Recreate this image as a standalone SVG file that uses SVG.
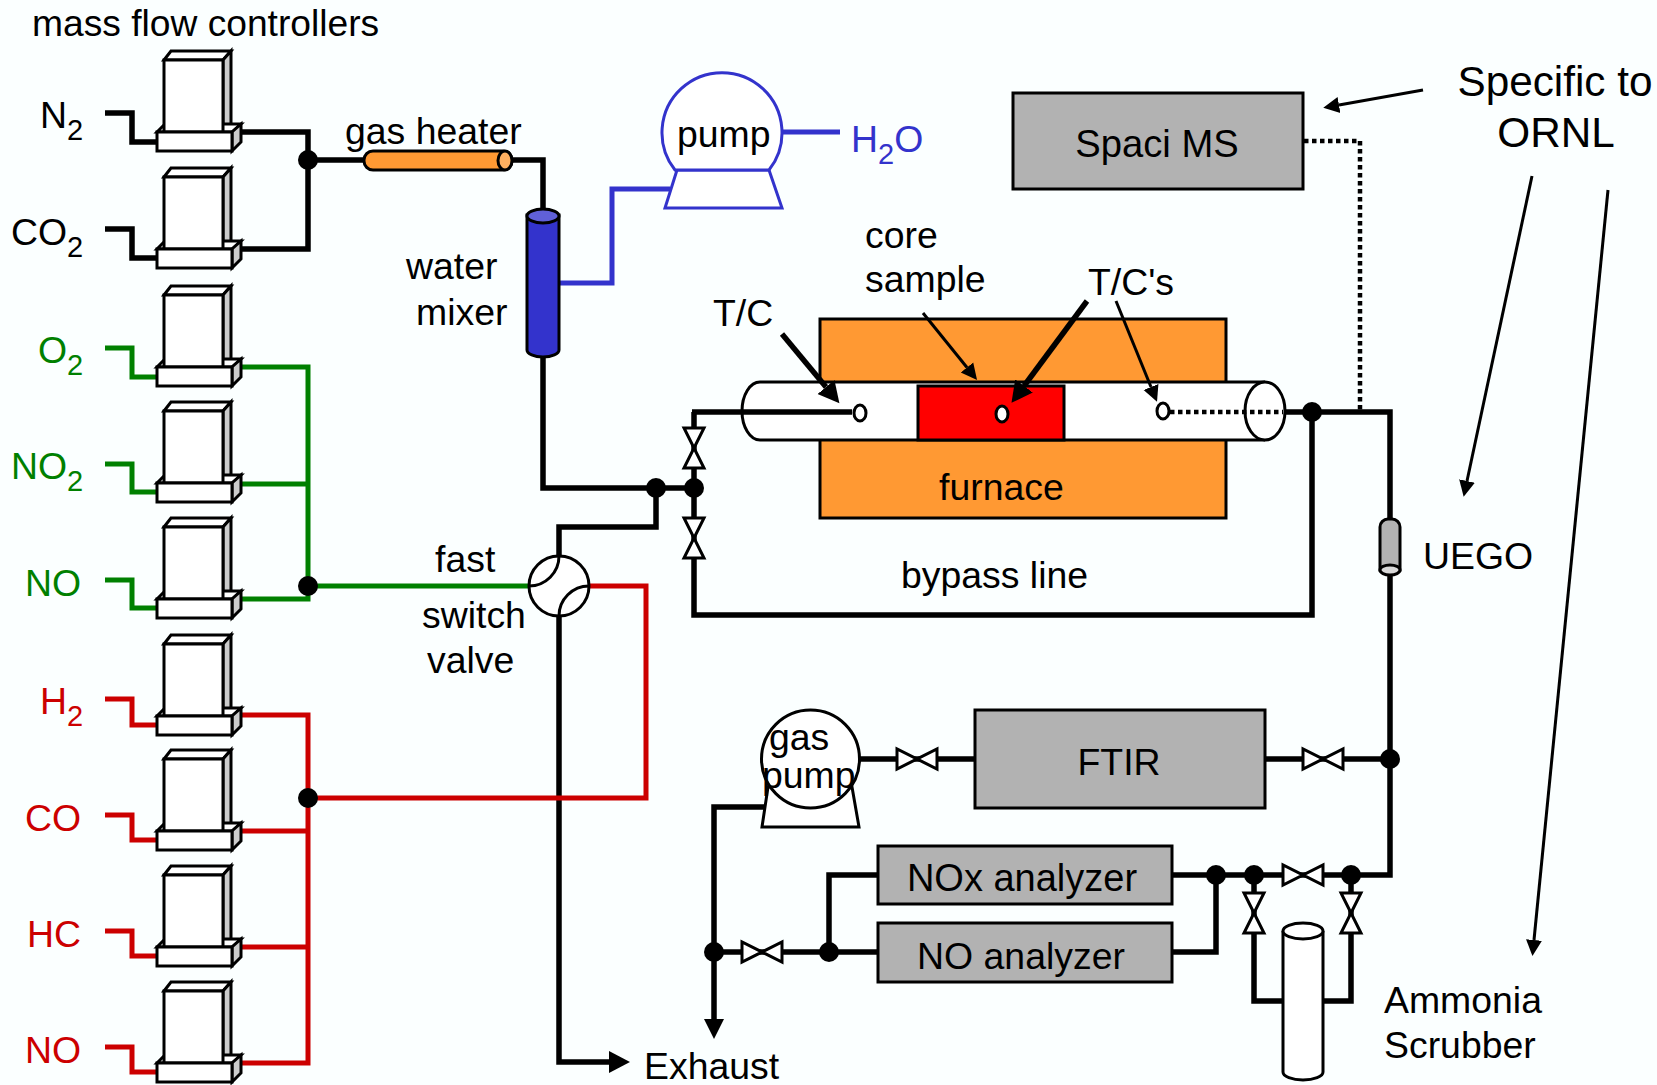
<svg xmlns="http://www.w3.org/2000/svg" width="1657" height="1085" viewBox="0 0 1657 1085">
<style>
text{font-family:"Liberation Sans",Arial,sans-serif;font-size:37.400px;fill:#000}
.m{text-anchor:middle}
.big{font-size:42.300px}
.mid{font-size:38px}
.sub{font-size:29px}
.g{fill:#008000}.r{fill:#cc0000}.b{fill:#3333cc}
.p{fill:none;stroke:#000;stroke-width:5.500}
.pg{fill:none;stroke:#008000;stroke-width:5}
.pr{fill:none;stroke:#cc0000;stroke-width:5}
.pb{fill:none;stroke:#3333cc;stroke-width:5}
.box{stroke:#000;stroke-width:3;fill:#b2b2b2}
.w{stroke:#000;stroke-width:3;fill:#fff}
.dot{fill:#000}
.dotted{fill:none;stroke:#000;stroke-width:4.500;stroke-dasharray:4.500 3.500}
.thin{fill:none;stroke:#000;stroke-width:3}
.thick{fill:none;stroke:#000;stroke-width:5.500}
</style>
<defs>
<marker id="ah" markerUnits="userSpaceOnUse" markerWidth="24" markerHeight="24" refX="0" refY="12" orient="auto"><path d="M0,4 L16,12 L0,20Z" fill="#000"/></marker>
<marker id="ahb" markerUnits="userSpaceOnUse" markerWidth="24" markerHeight="30" refX="0" refY="15" orient="auto"><path d="M0,4 L21,15 L0,26Z" fill="#000"/></marker>
<g id="mfc">
<path class="w" d="M164,60 L171,51 L231,51 L223,60Z"/>
<path d="M223,60 L231,51 L231,124 L223,132Z" fill="#cccccc" stroke="#000" stroke-width="3"/>
<path class="w" d="M157,132 L165,124 L241,124 L232,132Z"/>
<path d="M232,132 L241,124 L241,142 L232,151Z" fill="#cccccc" stroke="#000" stroke-width="3"/>
<rect class="w" x="164" y="60" width="59" height="72"/>
<rect class="w" x="157" y="132" width="75" height="19"/>
</g>
<path id="vv" class="w" d="M-10,-20 L10,-20 L-10,20 L10,20Z"/>
<path id="vh" class="w" d="M-20,-10 L-20,10 L20,-10 L20,10Z"/>
</defs>
<rect width="1657" height="1085" fill="#fbffff"/>

<g id="connectors">
<path class="p" d="M105,113H132V142H157M105,229H132V258H157"/>
<path class="p" d="M241,132H308V249H241M308,160H365"/>
<path class="p" d="M512,160H543V210"/>
<path class="p" d="M543,355V488H694"/>
<path class="p" d="M656,488V527H559V556"/>
<path class="p" d="M694,412V558M694,558V615H1312V412"/>
<path class="p" d="M1283,412H1390V875H1172"/>
<path class="dotted" d="M1304,141H1360V411"/>
<path class="p" d="M559,616V1062H609" marker-end="url(#ahb)"/>
<g id="green-lines">
<path class="pg" d="M105,348H132V377H157M105,464H132V492H157M105,580H132V608H157"/>
<path class="pg" d="M241,367H308V599H241M241,484H308M308,586H530"/>
</g>
<g id="red-lines">
<path class="pr" d="M105,699H132V725H157M105,815H132V840H157M105,931H132V956H157M105,1047H132V1072H157"/>
<path class="pr" d="M241,715H308V1063H241M241,831H308M241,947H308M308,798H646V586H589"/>
</g>
<path class="pb" d="M559,283H612V189H670M782,132H840"/>
<path class="p" d="M1265,759H1390M859,759H975M768,807H714V1019M714,952H878M829,952V875H878"/>
<path class="p" d="M1216,875V952H1172"/>
<path class="p" d="M1254,875V1001H1283M1351,875V1001H1323"/>
<path d="M704,1019H724L714,1039Z" fill="#000"/>
</g>

<g id="mfc-n2"><use href="#mfc"/><text x="40" y="128">N<tspan class="sub" dy="12">2</tspan></text></g>
<g id="mfc-co2"><use href="#mfc" y="117"/><text x="11" y="245">CO<tspan class="sub" dy="12">2</tspan></text></g>
<g id="mfc-o2"><use href="#mfc" y="235"/><text class="g" x="38" y="363">O<tspan class="sub" dy="12">2</tspan></text></g>
<g id="mfc-no2"><use href="#mfc" y="351"/><text class="g" x="11" y="479">NO<tspan class="sub" dy="12">2</tspan></text></g>
<g id="mfc-no-g"><use href="#mfc" y="467"/><text class="g" x="25" y="596">NO</text></g>
<g id="mfc-h2"><use href="#mfc" y="584"/><text class="r" x="40" y="714">H<tspan class="sub" dy="12">2</tspan></text></g>
<g id="mfc-co"><use href="#mfc" y="699"/><text class="r" x="25" y="831">CO</text></g>
<g id="mfc-hc"><use href="#mfc" y="815"/><text class="r" x="27" y="947">HC</text></g>
<g id="mfc-no-r"><use href="#mfc" y="931"/><text class="r" x="25" y="1063">NO</text></g>
<text x="32" y="36" style="font-size:37.200px">mass flow controllers</text>

<g id="junctions">
<circle class="dot" cx="308" cy="160" r="10"/>
<circle class="dot" cx="308" cy="586" r="10"/>
<circle class="dot" cx="308" cy="798" r="10"/>
<circle class="dot" cx="656" cy="488" r="10"/>
<circle class="dot" cx="694" cy="488" r="10"/>
<circle class="dot" cx="1312" cy="412" r="10"/>
<circle class="dot" cx="1390" cy="759" r="10"/>
<circle class="dot" cx="1216" cy="875" r="10"/>
<circle class="dot" cx="1254" cy="875" r="10"/>
<circle class="dot" cx="1351" cy="875" r="10"/>
<circle class="dot" cx="714" cy="952" r="10"/>
<circle class="dot" cx="829" cy="952" r="10"/>
</g>

<g id="gas-heater">
<rect x="364" y="151" width="148" height="19" rx="9" fill="#ff9933" stroke="#000" stroke-width="3"/>
<ellipse cx="505" cy="160.500" rx="7" ry="9.500" fill="#ffb060" stroke="#000" stroke-width="3"/>
<text x="345" y="144">gas heater</text>
</g>

<g id="water-mixer">
<path d="M527,215V350A16,7 0 0 0 559,350V215Z" fill="#3333cc" stroke="#000" stroke-width="3"/>
<ellipse cx="543" cy="216" rx="16" ry="7" fill="#6060d8" stroke="#000" stroke-width="3"/>
<text x="406" y="279">water</text>
<text x="416" y="325">mixer</text>
</g>

<g id="pump">
<path d="M677,170H769L782,208H665Z" fill="#fff" stroke="#3333cc" stroke-width="3"/>
<path d="M675,170A60,60 0 1 1 769,170Z" fill="#fff" stroke="#3333cc" stroke-width="3"/>
<text x="677" y="147">pump</text>
<text class="b" x="851" y="152">H<tspan class="sub" dy="12">2</tspan><tspan dy="-12">O</tspan></text>
</g>

<g id="furnace">
<rect x="820" y="319" width="406" height="199" fill="#ff9933" stroke="#000" stroke-width="3"/>
<path d="M760,382H1265V440H760A18,29 0 0 1 760,382Z" fill="#fff"/>
<path d="M1265,382H760A18,29 0 0 0 760,440H1265" fill="none" stroke="#000" stroke-width="3"/>
<rect x="918" y="386" width="146" height="54" fill="#ff0000" stroke="#000" stroke-width="3"/>
<ellipse class="w" cx="1265" cy="411" rx="20" ry="29"/>
<text x="939" y="500">furnace</text>
<text x="865" y="248">core</text>
<text x="865" y="292">sample</text>
<text x="713" y="326">T/C</text>
<text x="1088" y="295">T/C's</text>
</g>
<g id="thermocouples">
<path class="p" d="M692,412H852"/>
<ellipse class="w" cx="860" cy="413" rx="6" ry="8"/>
<ellipse class="w" cx="1002" cy="414" rx="6" ry="8"/>
<ellipse class="w" cx="1163" cy="411" rx="6" ry="8"/>
<path class="dotted" d="M1170,412H1283"/>
</g>

<g id="pointers">
<path class="thick" d="M782,334L826,387" marker-end="url(#ahb)"/>
<path class="thick" d="M1087,301L1024,386" marker-end="url(#ahb)"/>
<path class="thin" d="M923,313L967,367.500" marker-end="url(#ah)"/>
<path class="thin" d="M1116,301L1151,387" marker-end="url(#ah)"/>
<path class="thin" d="M1423,90L1339,105" marker-end="url(#ah)"/>
<path class="thin" d="M1532,176L1467,481" marker-end="url(#ah)"/>
<path class="thin" d="M1608,190L1534,940" marker-end="url(#ah)"/>
</g>

<g id="valves">
<use href="#vv" x="694" y="448"/>
<use href="#vv" x="694" y="538"/>
<use href="#vh" x="917" y="759"/>
<use href="#vh" x="1323" y="759"/>
<use href="#vh" x="762" y="952"/>
<use href="#vh" x="1303" y="875"/>
<use href="#vv" x="1254" y="913"/>
<use href="#vv" x="1351" y="913"/>
</g>

<g id="fast-switch-valve">
<circle class="w" cx="559" cy="586" r="30"/>
<path d="M529,586A30,30 0 0 0 559,556M589,586A30,30 0 0 0 559,616" fill="none" stroke="#000" stroke-width="3"/>
<text x="435" y="572">fast</text>
<text x="422" y="628">switch</text>
<text x="427" y="673">valve</text>
</g>
<text x="901" y="588">bypass line</text>

<g id="spaci-ms">
<rect class="box" x="1013" y="93" width="290" height="96"/>
<text class="m" style="font-size:38.200px" x="1157" y="157">Spaci MS</text>
</g>
<g id="specific">
<text class="m big" x="1555" y="96">Specific to</text>
<text class="m big" x="1556" y="147">ORNL</text>
</g>

<g id="uego">
<path d="M1380,527A8,8 0 0 1 1388,519H1392A8,8 0 0 1 1400,527V570H1380Z" fill="#b2b2b2" stroke="#000" stroke-width="3"/>
<ellipse cx="1390" cy="570" rx="10" ry="5" fill="#d8d8d8" stroke="#000" stroke-width="3"/>
<text x="1423" y="569">UEGO</text>
</g>

<g id="ftir">
<rect class="box" x="975" y="710" width="290" height="98"/>
<text class="m" x="1119" y="775">FTIR</text>
</g>
<g id="nox-analyzer">
<rect class="box" x="878" y="846" width="294" height="58"/>
<text class="m mid" x="1022" y="891">NOx analyzer</text>
</g>
<g id="no-analyzer">
<rect class="box" x="878" y="923" width="294" height="59"/>
<text class="m" x="1021" y="969">NO analyzer</text>
</g>

<g id="gas-pump">
<path d="M768,787H852L859,827H762Z" fill="#fff" stroke="#000" stroke-width="3"/>
<circle class="w" cx="810.500" cy="759" r="49"/>
<text x="769" y="750">gas</text>
<text x="762" y="788">pump</text>
</g>

<g id="scrubber">
<path class="w" d="M1283,931V1072A20,8 0 0 0 1323,1072V931"/>
<ellipse class="w" cx="1303" cy="931" rx="20" ry="8"/>
<text x="1384" y="1013">Ammonia</text>
<text x="1384" y="1058">Scrubber</text>
</g>
<text x="644" y="1079">Exhaust</text>
</svg>
